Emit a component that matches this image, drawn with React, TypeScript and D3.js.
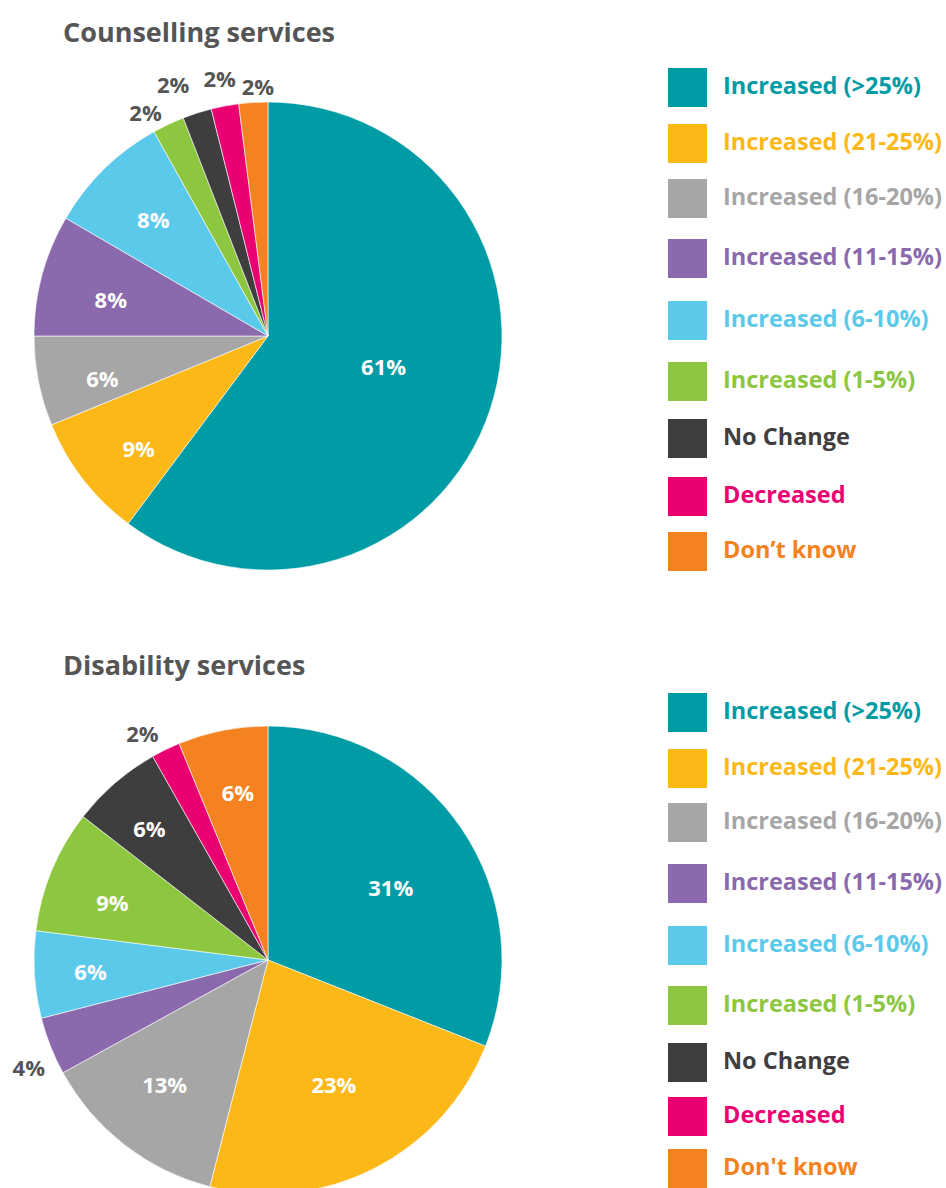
import React from "react";
import * as d3 from "d3";

const categoriesTop = [
  "Increased (>25%)",
  "Increased (21-25%)",
  "Increased (16-20%)",
  "Increased (11-15%)",
  "Increased (6-10%)",
  "Increased (1-5%)",
  "No Change",
  "Decreased",
  "Don\u2019t know",
];
const categoriesBottom = [
  "Increased (>25%)",
  "Increased (21-25%)",
  "Increased (16-20%)",
  "Increased (11-15%)",
  "Increased (6-10%)",
  "Increased (1-5%)",
  "No Change",
  "Decreased",
  "Don't know",
];
// slice sizes (angles)
const counsellingValues = [60.2, 8.6, 6.2, 8.4, 8.5, 2.2, 2.0, 1.9, 2.0];
// printed percentage labels
const counsellingLabels = ["61%", "9%", "6%", "8%", "8%", "2%", "2%", "2%", "2%"];
const disabilityValues = [31, 23, 13, 4, 6, 8.5, 6.3, 2, 6.2];
const disabilityLabels = ["31%", "23%", "13%", "4%", "6%", "9%", "6%", "2%", "6%"];
const colors = [
  "#009ca6",
  "#fbb817",
  "#a7a6a6",
  "#8a69ad",
  "#5bc9ea",
  "#8dc63f",
  "#3e3e3e",
  "#eb0072",
  "#f58220",
];
// layout: legend row offsets (px) from the first row
const legendOffsetsTop = [0, 56, 111, 171, 233, 294, 351, 409, 464];
const legendOffsetsBottom = [0, 56, 110, 171, 233, 293, 350, 404, 456];
// layout: label radius as a fraction of the pie radius, and angular nudge (deg)
const labelRadiiTop = [0.51, 0.73, 0.73, 0.69, 0.7, 1.09, 1.15, 1.12, 1.07];
const labelNudgeTop = [-4, -3, -3, -2, 0, -3.5, -3, 0, 1.3];
const labelRadiiBottom = [0.61, 0.6, 0.69, 1.12, 0.76, 0.71, 0.76, 1.11, 0.73];
const labelNudgeBottom = [3.5, -1, 2, -2.5, 0, -2, -1, -3, 1];

const FONT = "'Open Sans', 'Noto Sans', sans-serif";
const R = 234;

function Pie({
  cx,
  cy,
  values,
  labels,
  radii,
  nudges,
}: {
  cx: number;
  cy: number;
  values: number[];
  labels: string[];
  radii: number[];
  nudges: number[];
}) {
  const pie = d3
    .pie<number>()
    .sort(null)
    .value((d) => d)
    .startAngle(0)
    .endAngle(2 * Math.PI);
  const arcs = pie(values);
  const arc = d3.arc<d3.PieArcDatum<number>>().innerRadius(0).outerRadius(R);
  return (
    <g transform={`translate(${cx},${cy})`}>
      {arcs.map((a, i) => (
        <path
          key={i}
          d={arc(a) || ""}
          fill={colors[i]}
          stroke="#ffffff"
          strokeWidth={0.6}
        />
      ))}
      {arcs.map((a, i) => {
        const mid = (a.startAngle + a.endAngle) / 2 + (nudges[i] * Math.PI) / 180;
        const outside = radii[i] > 1;
        const r = radii[i] * R;
        const x = Math.sin(mid) * r;
        const y = -Math.cos(mid) * r;
        return (
          <text
            key={"l" + i}
            x={x}
            y={y}
            textAnchor="middle"
            dominantBaseline="central"
            fontFamily={FONT}
            fontWeight={700}
            fontSize={22}
            fill={outside ? "#555555" : "#ffffff"}
          >
            {labels[i]}
          </text>
        );
      })}
    </g>
  );
}

function Legend({
  x,
  y,
  labels,
  offsets,
}: {
  x: number;
  y: number;
  labels: string[];
  offsets: number[];
}) {
  return (
    <g>
      {labels.map((l, i) => (
        <g key={i} transform={`translate(${x},${y + offsets[i]})`}>
          <rect x={0} y={0} width={39} height={39} fill={colors[i]} />
          <text
            x={55}
            y={25.5}
            fontFamily={FONT}
            fontWeight={700}
            fontSize={23.5}
            fill={colors[i]}
          >
            {l}
          </text>
        </g>
      ))}
    </g>
  );
}

export default function App() {
  return (
    <svg
      width={946}
      height={1188}
      style={{ position: "absolute", left: 0, top: 0, background: "#fff" }}
    >
      <text
        x={63}
        y={42}
        fontFamily={FONT}
        fontWeight={700}
        fontSize={27}
        fill="#555555"
      >
        Counselling services
      </text>
      <Pie
        cx={268}
        cy={336}
        values={counsellingValues}
        labels={counsellingLabels}
        radii={labelRadiiTop}
        nudges={labelNudgeTop}
      />
      <Legend x={668} y={68} labels={categoriesTop} offsets={legendOffsetsTop} />

      <text
        x={63}
        y={675}
        fontFamily={FONT}
        fontWeight={700}
        fontSize={27}
        fill="#555555"
      >
        Disability services
      </text>
      <Pie
        cx={268}
        cy={960}
        values={disabilityValues}
        labels={disabilityLabels}
        radii={labelRadiiBottom}
        nudges={labelNudgeBottom}
      />
      <Legend
        x={668}
        y={693}
        labels={categoriesBottom}
        offsets={legendOffsetsBottom}
      />
    </svg>
  );
}
